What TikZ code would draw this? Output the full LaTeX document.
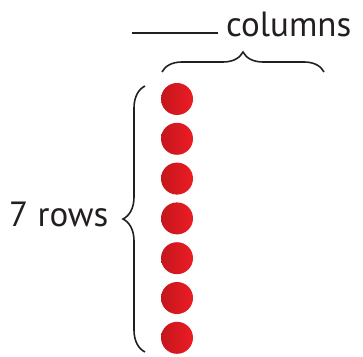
\documentclass[tikz,border=0pt]{standalone}
\usepackage{fontspec}
\setmainfont{PT Sans}
\usepackage{xcolor}
\usetikzlibrary{decorations.pathreplacing}

\definecolor{inkgray}{HTML}{231F20}
\definecolor{dotred}{HTML}{ED1C24}
\definecolor{dotdark}{HTML}{C4161C}

\tikzset{
    counter/.style = {circle, minimum size = 32pt, inner sep = 0pt,
        left color = dotdark, right color = dotred},
    bracket/.style = {draw = inkgray, line width = 1.6pt,
        decorate, decoration = {brace, amplitude = #1}},
    label/.style = {inner sep = 0pt, text = inkgray,
        font = \fontsize{35}{42}\selectfont}
}

\begin{document}
\begin{tikzpicture}[x = 1pt, y = 1pt]
    \useasboundingbox (0,0) rectangle (363,356);

    % one column of seven counters
    \foreach \i in {1,...,7} {
        \node[counter] (dot\i) at (177, {257 - 39.8*(\i-1)}) {};
    }

    % brace over the column and the blank to fill in
    \coordinate (colA) at (162,284);
    \coordinate (colB) at (324,284);
    \draw[bracket = 20pt] (colA) -- (colB);
    \coordinate (blankA) at (132,323);
    \coordinate (blankB) at (218,323);
    \draw[inkgray, line width = 1.4pt] (blankA) -- (blankB);
    \node[label, anchor = base west] (cols) at (226,319) {columns};

    % brace beside the rows
    \coordinate (rowA) at (145,4);
    \coordinate (rowB) at (145,270);
    \draw[bracket = 22pt] (rowA) -- (rowB);
    \node[label, anchor = base west] (rows) at (9,130) {7 rows};

\end{tikzpicture}
\end{document}
